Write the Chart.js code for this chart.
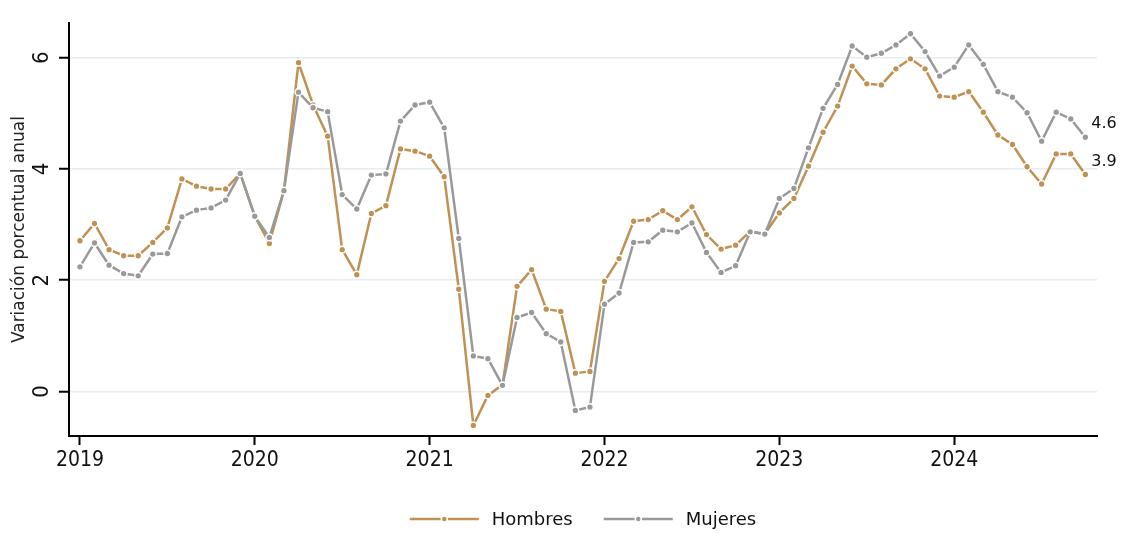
<!DOCTYPE html>
<html>
<head>
<meta charset="utf-8">
<script src="https://cdn.jsdelivr.net/npm/chart.js@4.4.1/dist/chart.umd.min.js"></script>
<style>
html,body{margin:0;padding:0;background:#ffffff;}
#wrap{width:1125px;height:533px;}
</style>
</head>
<body>
<div id="wrap"><canvas id="c" width="1125" height="533"></canvas></div>
<script>
// ---- data ----
const months = [
  '2019-01','2019-02','2019-03','2019-04','2019-05','2019-06','2019-07','2019-08','2019-09','2019-10','2019-11','2019-12',
  '2020-01','2020-02','2020-03','2020-04','2020-05','2020-06','2020-07','2020-08','2020-09','2020-10','2020-11','2020-12',
  '2021-01','2021-02','2021-03','2021-04','2021-05','2021-06','2021-07','2021-08','2021-09','2021-10','2021-11','2021-12',
  '2022-01','2022-02','2022-03','2022-04','2022-05','2022-06','2022-07','2022-08','2022-09','2022-10','2022-11','2022-12',
  '2023-01','2023-02','2023-03','2023-04','2023-05','2023-06','2023-07','2023-08','2023-09','2023-10','2023-11','2023-12',
  '2024-01','2024-02','2024-03','2024-04','2024-05','2024-06','2024-07','2024-08','2024-09','2024-10'
];
const hombres = [
  2.71, 3.02, 2.55, 2.44, 2.44, 2.68, 2.94, 3.82, 3.69, 3.64, 3.64, 3.92,
  3.15, 2.66, 3.61, 5.91, 5.15, 4.59, 2.55, 2.10, 3.20, 3.34, 4.36, 4.32,
  4.23, 3.86, 1.84, -0.61, -0.07, 0.12, 1.89, 2.19, 1.48, 1.44, 0.33, 0.36,
  1.98, 2.39, 3.06, 3.09, 3.25, 3.09, 3.32, 2.82, 2.56, 2.63, 2.88, 2.83,
  3.21, 3.47, 4.05, 4.66, 5.13, 5.85, 5.53, 5.51, 5.80, 5.98, 5.80, 5.31,
  5.29, 5.39, 5.02, 4.61, 4.44, 4.04, 3.73, 4.27, 4.27, 3.90
];
const mujeres = [
  2.24, 2.67, 2.27, 2.12, 2.08, 2.47, 2.48, 3.14, 3.26, 3.30, 3.44, 3.92,
  3.15, 2.77, 3.61, 5.38, 5.10, 5.03, 3.54, 3.28, 3.89, 3.91, 4.86, 5.15,
  5.20, 4.74, 2.75, 0.64, 0.59, 0.11, 1.33, 1.42, 1.04, 0.89, -0.34, -0.28,
  1.57, 1.77, 2.68, 2.69, 2.90, 2.87, 3.03, 2.50, 2.14, 2.26, 2.87, 2.83,
  3.47, 3.65, 4.38, 5.09, 5.52, 6.21, 6.01, 6.08, 6.23, 6.43, 6.11, 5.67,
  5.83, 6.23, 5.88, 5.39, 5.29, 5.01, 4.50, 5.02, 4.90, 4.57
];
const seriesNames = ['Hombres', 'Mujeres'];
const yearTickPos = [0, 12, 24, 36, 48, 60];
const yearTickLabels = ['2019', '2020', '2021', '2022', '2023', '2024'];
const yTickValues = [0, 2, 4, 6];
const yTitle = 'Variación porcentual anual';

// ---- styles ----
const GOLD = '#bf9153';
const GRAY = '#999999';
const NARROW = '"Liberation Sans Narrow", "DejaVu Sans Condensed", "Liberation Sans", sans-serif';
const SANS = '"DejaVu Sans", "Liberation Sans", sans-serif';

function toPoints(arr) { return arr.map((v, i) => ({ x: i, y: v })); }

const endLabels = {
  id: 'endLabels',
  afterDatasetsDraw(chart) {
    const ctx = chart.ctx;
    ctx.save();
    ctx.font = '16px ' + SANS;
    ctx.fillStyle = '#111';
    ctx.textAlign = 'left';
    ctx.textBaseline = 'middle';
    chart.data.datasets.forEach((ds, di) => {
      const meta = chart.getDatasetMeta(di);
      const last = meta.data[meta.data.length - 1];
      const v = ds.data[ds.data.length - 1].y;
      ctx.fillText(v.toFixed(1), last.x + 6, last.y - 13);
    });
    ctx.restore();
  }
};

const bottomLegend = {
  id: 'bottomLegend',
  afterDraw(chart) {
    const ctx = chart.ctx;
    const ca = chart.chartArea;
    ctx.save();
    ctx.font = '18px ' + SANS;
    const lineLen = 69, gapText = 13, gapItem = 31;
    const items = chart.data.datasets.map(ds => ({ text: ds.label, color: ds.borderColor, w: ctx.measureText(ds.label).width }));
    let total = 0;
    items.forEach((it, i) => { total += lineLen + gapText + it.w + (i < items.length - 1 ? gapItem : 0); });
    let x = (ca.left + ca.right) / 2 - total / 2;
    const y = 519;
    items.forEach(it => {
      ctx.strokeStyle = it.color;
      ctx.lineWidth = 2.5;
      ctx.beginPath();
      ctx.moveTo(x, y);
      ctx.lineTo(x + lineLen, y);
      ctx.stroke();
      ctx.beginPath();
      ctx.arc(x + lineLen / 2, y, 3, 0, Math.PI * 2);
      ctx.fillStyle = it.color;
      ctx.fill();
      ctx.lineWidth = 1.5;
      ctx.strokeStyle = '#fff';
      ctx.stroke();
      ctx.fillStyle = '#111';
      ctx.textAlign = 'left';
      ctx.textBaseline = 'middle';
      ctx.fillText(it.text, x + lineLen + gapText, y + 1);
      x += lineLen + gapText + it.w + gapItem;
    });
    ctx.restore();
  }
};

function ds(label, values, color, order) {
  return {
    label: label,
    data: toPoints(values),
    borderColor: color,
    backgroundColor: color,
    pointBackgroundColor: color,
    pointBorderColor: '#ffffff',
    pointBorderWidth: 1.5,
    pointRadius: 3.4,
    borderWidth: 2.5,
    tension: 0,
    order: order
  };
}

new Chart(document.getElementById('c'), {
  type: 'line',
  data: {
    labels: months,
    datasets: [
      ds(seriesNames[0], hombres, GOLD, 1),
      ds(seriesNames[1], mujeres, GRAY, 0)
    ]
  },
  options: {
    responsive: false,
    animation: false,
    events: [],
    layout: { padding: { left: 0, right: 28, top: 20, bottom: 50 } },
    plugins: { legend: { display: false }, tooltip: { enabled: false } },
    scales: {
      x: {
        type: 'linear',
        min: -0.75,
        max: 69.8,
        afterBuildTicks: s => { s.ticks = yearTickPos.map(v => ({ value: v })); },
        afterFit: s => { s.height = 47; },
        ticks: {
          autoSkip: false,
          maxRotation: 0,
          minRotation: 0,
          padding: 3,
          color: '#111',
          font: { family: NARROW, size: 21 },
          callback: (v, i) => yearTickLabels[i]
        },
        grid: { drawOnChartArea: false, tickLength: 9, tickColor: '#000', tickWidth: 2 },
        border: { color: '#000', width: 2 }
      },
      y: {
        type: 'linear',
        min: -0.8,
        max: 6.62,
        afterBuildTicks: s => { s.ticks = yTickValues.map(v => ({ value: v })); },
        afterFit: s => { s.width = 69; },
        ticks: {
          minRotation: 90,
          maxRotation: 90,
          crossAlign: 'center',
          padding: 10,
          color: '#111',
          font: { family: NARROW, size: 22 },
          callback: v => String(v)
        },
        grid: { color: '#e4edf2', lineWidth: 1.5, tickLength: 10, tickColor: '#000', tickWidth: 2 },
        border: { color: '#000', width: 2 },
        title: {
          display: true,
          text: yTitle,
          color: '#222',
          font: { family: SANS, size: 17 },
          padding: { top: 9, bottom: 0 }
        }
      }
    }
  },
  plugins: [endLabels, bottomLegend]
});
</script>
</body>
</html>
